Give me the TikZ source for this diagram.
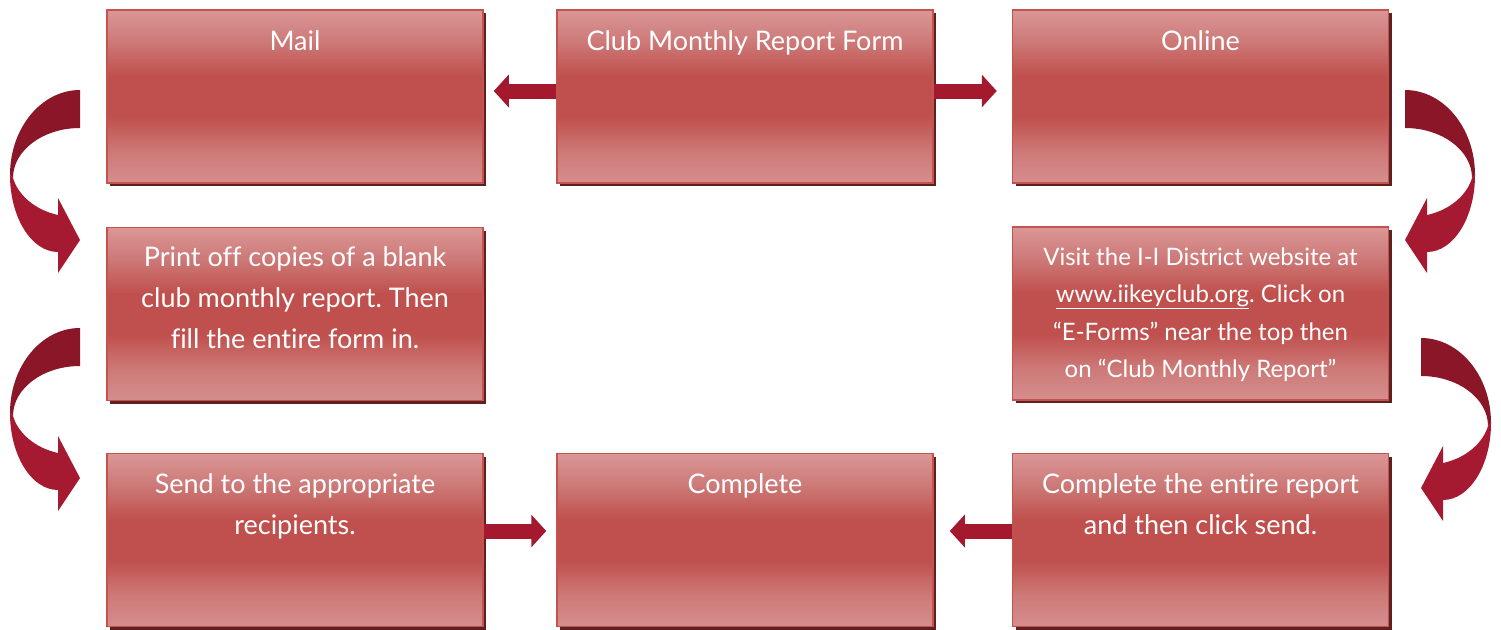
\documentclass[tikz,border=0pt]{standalone}
\usepackage{fontspec}
\setmainfont{Lato}[Ligatures={NoCommon,NoRare,NoContextual}]
\usetikzlibrary{shadows,arrows.meta}
\definecolor{boxlight}{HTML}{DA9796}
\definecolor{boxbot}{HTML}{D58E8D}
\definecolor{boxq}{HTML}{CD7A78}
\definecolor{boxmid}{HTML}{C0504D}
\definecolor{boxborder}{HTML}{C4524F}
\definecolor{shadowc}{HTML}{5E2120}
\definecolor{arrowc}{HTML}{A5192F}
\definecolor{curvdark}{HTML}{8A1628}
\definecolor{curvbright}{HTML}{A51A31}
\pgfdeclareverticalshading{boxshade}{100bp}{color(0bp)=(boxbot); color(25bp)=(boxbot); color(34bp)=(boxq); color(44bp)=(boxmid); color(50bp)=(boxmid); color(56bp)=(boxmid); color(66bp)=(boxq); color(75bp)=(boxlight); color(100bp)=(boxlight)}
\newcommand{\hdrfont}{\fontsize{27}{40}\selectfont}
\newcommand{\bodyfont}{\fontsize{27}{41}\selectfont}
\newcommand{\smallbodyfont}{\fontsize{24}{37.5}\selectfont}
\frenchspacing
\tikzset{
  box/.style={draw=boxborder, line width=1.5pt, shading=boxshade,
    minimum width=376pt, minimum height=173pt, inner sep=0pt,
    drop shadow={shadow xshift=3pt, shadow yshift=-3pt, fill=shadowc, opacity=1}},
  txt/.style={text=white, align=center, inner sep=0pt, anchor=north},
  conn/.style={draw=arrowc, line width=15pt, -{Triangle[length=15pt,width=32pt]}},
  curvarr/.pic={
    \fill[curvdark] (0,0) .. controls (-38.6,0) and (-70,38) .. (-70,85)
      -- (-67,88) .. controls (-67,60.5) and (-37,38) .. (0,38) -- cycle;
    \fill[curvbright] (-70,85) .. controls (-70,127.5) and (-48.5,162) .. (-22,162)
      -- (-22,183) -- (0,150) -- (-22,108) -- (-22,125)
      .. controls (-45,120) and (-62,105) .. (-67,88) -- cycle;
  }
}
\begin{document}
\begin{tikzpicture}[x=1pt,y=-1pt]
\useasboundingbox (0,0) rectangle (1501,629);
% boxes
\node[box] (mail) at (295,96.5) {};
\node[box] (club) at (745,96.5) {};
\node[box] (online) at (1200.5,96.5) {};
\node[box] (print) at (295,314) {};
\node[box] (visit) at (1200.5,313.5) {};
\node[box] (send) at (295,540) {};
\node[box] (complete) at (745,540) {};
\node[box] (report) at (1200.5,540) {};
% texts
\node[txt, font=\hdrfont] (mailt) at ([yshift=-21pt]mail.north) {Mail};
\node[txt, font=\hdrfont] (clubt) at ([yshift=-21pt]club.north) {Club Monthly Report Form};
\node[txt, font=\hdrfont] (onlinet) at ([yshift=-21pt]online.north) {Online};
\node[txt, font=\bodyfont] (printt) at ([yshift=-19.5pt]print.north) {Print off copies of a blank\\club monthly report. Then\\fill the entire form in.};
\node[txt, font=\smallbodyfont] (visitt) at ([yshift=-21pt]visit.north) {Visit the I-I District website at\\\underline{www.iikeyclub.org}. Click on\\“E-Forms” near the top then\\on “Club Monthly Report”};
\node[txt, font=\bodyfont] (sendt) at ([yshift=-20.5pt]send.north) {Send to the appropriate\\recipients.};
\node[txt, font=\hdrfont] (completet) at ([yshift=-21pt]complete.north) {Complete};
\node[txt, font=\bodyfont] (reportt) at ([yshift=-20.5pt]report.north) {Complete the entire report\\and then click send.};
% straight connectors
\draw[conn, shorten >=10pt] ([yshift=5.5pt]club.west) -- ([yshift=5.5pt]mail.east);
\draw[conn, shorten >=15pt] ([yshift=5.5pt]club.east) -- ([yshift=5.5pt]online.west);
\draw[conn, shorten >=10pt] ([yshift=9pt]send.east) -- ([yshift=9pt]complete.west);
\draw[conn, shorten >=16pt] ([yshift=9pt]report.west) -- ([yshift=9pt]complete.east);
% curved connectors
\pic at (80,90) {curvarr};
\pic at (80,328) {curvarr};
\pic[xscale=-1] at (1405,90) {curvarr};
\pic[xscale=-1] at (1421,338) {curvarr};
\end{tikzpicture}
\end{document}
